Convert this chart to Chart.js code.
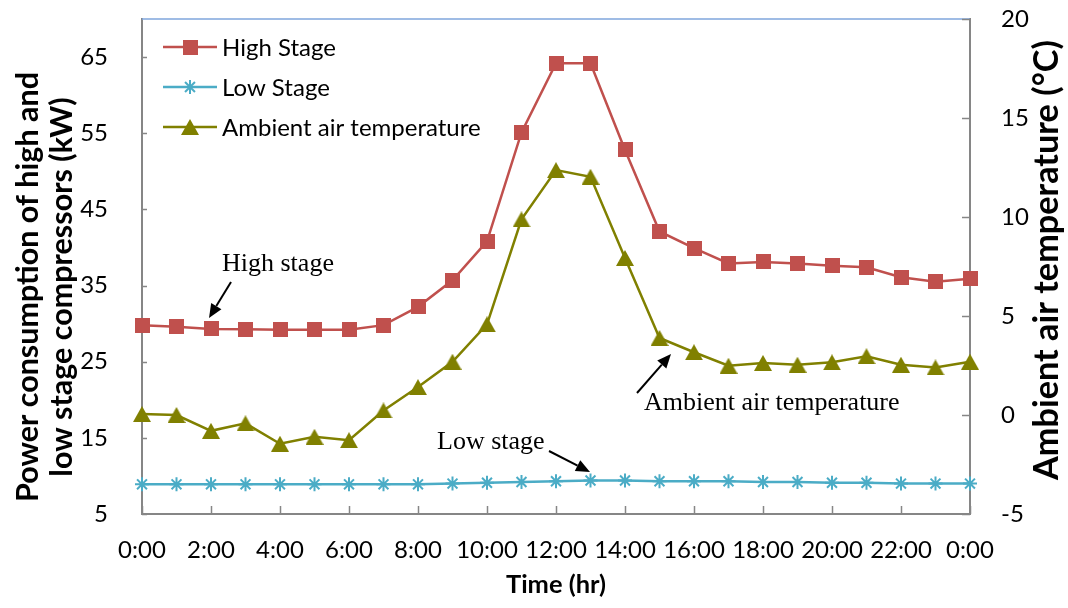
<!DOCTYPE html>
<html><head><meta charset="utf-8">
<script src="https://cdn.jsdelivr.net/npm/chart.js@4.4.1/dist/chart.umd.min.js"></script>
<style>html,body{margin:0;padding:0;background:#fff}canvas{display:block}</style>
</head><body>
<canvas id="c" width="1068" height="608"></canvas>
<script>
const hours = [0,1,2,3,4,5,6,7,8,9,10,11,12,13,14,15,16,17,18,19,20,21,22,23,24];
const highStage = [29.8,29.6,29.3,29.25,29.2,29.2,29.2,29.8,32.2,35.7,40.8,55.1,64.2,64.2,52.8,42.1,39.9,37.9,38.1,37.9,37.6,37.4,36.1,35.5,35.9];
const lowStage = [8.9,8.9,8.9,8.9,8.9,8.9,8.9,8.9,8.9,9.0,9.1,9.2,9.3,9.4,9.4,9.3,9.3,9.3,9.2,9.2,9.1,9.1,9.0,9.0,9.0];
const ambientTemp = [0.05,0.0,-0.8,-0.42,-1.45,-1.1,-1.27,0.23,1.41,2.69,4.58,9.88,12.37,12.03,7.93,3.89,3.17,2.49,2.63,2.54,2.66,2.97,2.54,2.4,2.69];
const leftTicks = [5,15,25,35,45,55,65];
const rightTicks = [-5,0,5,10,15,20];
const xTicks = [0,2,4,6,8,10,12,14,16,18,20,22,24];
const seriesNames = ['High Stage','Low Stage','Ambient air temperature'];
const leftTitle = ['Power consumption of high and','low stage compressors (kW)'];
const rightTitle = 'Ambient air temperature (°C)';
const xTitle = 'Time (hr)';
const notes = ['High stage','Low stage','Ambient air temperature'];

const C_HIGH = '#C0504D', C_LOW = '#4BACC6', C_AMB = '#808000';
const AXIS = '#868686';

function squareCanvas(color){
  const c=document.createElement('canvas'); c.width=15; c.height=15;
  const g=c.getContext('2d'); g.fillStyle=color; g.fillRect(0,0,15,15); return c;
}
function triCanvas(color){
  const c=document.createElement('canvas'); c.width=18; c.height=16;
  const g=c.getContext('2d'); g.fillStyle=color; g.beginPath();
  g.moveTo(9,0); g.lineTo(18,16); g.lineTo(0,16); g.closePath(); g.fill(); return c;
}
const sqImg = squareCanvas(C_HIGH), triImg = triCanvas(C_AMB);

function pts(arr){ return hours.map((h,i)=>({x:h,y:arr[i]})); }

function line(ctx,x1,y1,x2,y2){ ctx.beginPath(); ctx.moveTo(x1,y1); ctx.lineTo(x2,y2); ctx.stroke(); }
function star(ctx,x,y,r,color){
  ctx.save(); ctx.strokeStyle=color; ctx.lineWidth=2;
  line(ctx,x,y-r,x,y+r); line(ctx,x-r,y,x+r,y);
  const d=r*Math.SQRT1_2; line(ctx,x-d,y-d,x+d,y+d); line(ctx,x-d,y+d,x+d,y-d);
  ctx.restore();
}
function arrow(ctx,x1,y1,x2,y2){
  const ang=Math.atan2(y2-y1,x2-x1), L=14, W=6;
  const bx=x2-L*Math.cos(ang), by=y2-L*Math.sin(ang);
  ctx.strokeStyle='#000'; ctx.lineWidth=2; line(ctx,x1,y1,bx,by);
  ctx.fillStyle='#000'; ctx.beginPath(); ctx.moveTo(x2,y2);
  ctx.lineTo(bx+W*Math.sin(ang), by-W*Math.cos(ang));
  ctx.lineTo(bx-W*Math.sin(ang), by+W*Math.cos(ang)); ctx.closePath(); ctx.fill();
}
function fitFont(ctx,text,target){
  ctx.font='bold 20px Lato';
  const w=ctx.measureText(text).width;
  return 'bold '+(20*target/w).toFixed(2)+'px Lato';
}

const decor = {
  id:'decor',
  beforeDatasetsDraw(chart){
    const {ctx, chartArea:a, scales} = chart;
    ctx.save();
    ctx.strokeStyle='#7FA6DC'; ctx.lineWidth=1.5; line(ctx,a.left,a.top,a.right,a.top);
    ctx.strokeStyle=AXIS; ctx.lineWidth=1.5;
    leftTicks.forEach(v=>{const y=Math.round(scales.y.getPixelForValue(v))+0.5; line(ctx,a.left,y,a.left+5,y);});
    rightTicks.forEach(v=>{const y=Math.round(scales.y1.getPixelForValue(v))+0.5; line(ctx,a.right-8,y,a.right,y);});
    xTicks.forEach(v=>{const x=Math.round(scales.x.getPixelForValue(v))+0.5; line(ctx,x,a.bottom-8,x,a.bottom);});
    ctx.restore();
  },
  afterDraw(chart){
    const {ctx, chartArea:a} = chart;
    ctx.save();
    // legend
    const rows=[47,87,127], colors=[C_HIGH,C_LOW,C_AMB];
    ctx.font='24px Lato'; ctx.textBaseline='middle'; ctx.textAlign='left';
    rows.forEach((y,i)=>{
      ctx.strokeStyle=colors[i]; ctx.lineWidth=2.5; line(ctx,163,y,217,y);
      if(i===0) ctx.drawImage(sqImg,190-7.5,y-7.5);
      else if(i===1) star(ctx,190,y,7,C_LOW);
      else ctx.drawImage(triImg,190-9,y-8);
      ctx.fillStyle='#000'; ctx.fillText(seriesNames[i],222,y+1);
    });
    // axis titles
    ctx.fillStyle='#000'; ctx.textAlign='center'; ctx.textBaseline='middle';
    const lf = fitFont(ctx,leftTitle[0],430);
    ctx.font=lf;
    ctx.save(); ctx.translate(28,287); ctx.rotate(-Math.PI/2);
    ctx.fillText(leftTitle[0],0,0); ctx.fillText(leftTitle[1],0,34); ctx.restore();
    ctx.font=fitFont(ctx,rightTitle,440);
    ctx.save(); ctx.translate(1047,260); ctx.rotate(-Math.PI/2);
    ctx.fillText(rightTitle,0,0); ctx.restore();
    ctx.font=fitFont(ctx,xTitle,100); ctx.fillText(xTitle,(a.left+a.right)/2,585);
    // annotations
    ctx.font='26px "Liberation Serif"'; ctx.textAlign='left'; ctx.textBaseline='alphabetic';
    ctx.fillText(notes[0],222,271);
    ctx.fillText(notes[1],437,449);
    ctx.fillText(notes[2],644,410);
    arrow(ctx,231,282,209,318);
    arrow(ctx,549,451,590,472);
    arrow(ctx,637,393,671,354);
    ctx.restore();
  }
};

function noPad(s){ s.paddingTop=0; s.paddingBottom=0; s.paddingLeft=0; s.paddingRight=0; }

new Chart(document.getElementById('c'), {
  type:'line',
  data:{datasets:[
    {label:seriesNames[0], data:pts(highStage), yAxisID:'y', borderColor:C_HIGH, borderWidth:2.5,
     pointStyle:sqImg, pointRadius:8, clip:false, tension:0},
    {label:seriesNames[1], data:pts(lowStage), yAxisID:'y', borderColor:C_LOW, borderWidth:2.5,
     pointStyle:'star', pointRadius:7, pointBorderWidth:2, pointBorderColor:C_LOW, pointBackgroundColor:C_LOW, clip:false, tension:0},
    {label:seriesNames[2], data:pts(ambientTemp), yAxisID:'y1', borderColor:C_AMB, borderWidth:2.5,
     pointStyle:triImg, pointRadius:9, clip:false, tension:0}
  ]},
  options:{
    responsive:false, animation:false, devicePixelRatio:1,
    layout:{padding:{top:19,left:0,right:0,bottom:0}},
    plugins:{legend:{display:false}, tooltip:{enabled:false}},
    scales:{
      x:{type:'linear', position:'bottom', min:0, max:24,
        afterBuildTicks:s=>{s.ticks=xTicks.map(v=>({value:v}));},
        afterFit:s=>{s.height=94; noPad(s);},
        grid:{display:false}, border:{display:true,color:AXIS,width:2},
        ticks:{autoSkip:false, maxRotation:0, minRotation:0, padding:14, color:'#000',
          font:{family:'Lato',size:24}, callback:v=>(v%24)+':00'}},
      y:{type:'linear', position:'left', min:5, max:70,
        afterBuildTicks:s=>{s.ticks=leftTicks.map(v=>({value:v}));},
        afterFit:s=>{s.width=142; noPad(s);},
        grid:{display:false}, border:{display:true,color:AXIS,width:2},
        ticks:{padding:26, color:'#000', font:{family:'Lato',size:24}}},
      y1:{type:'linear', position:'right', min:-5, max:20,
        afterBuildTicks:s=>{s.ticks=rightTicks.map(v=>({value:v}));},
        afterFit:s=>{s.width=98; noPad(s);},
        grid:{display:false}, border:{display:true,color:AXIS,width:2},
        ticks:{padding:23, color:'#000', font:{family:'Lato',size:24}}}
    }
  },
  plugins:[decor]
});
</script>
</body></html>
